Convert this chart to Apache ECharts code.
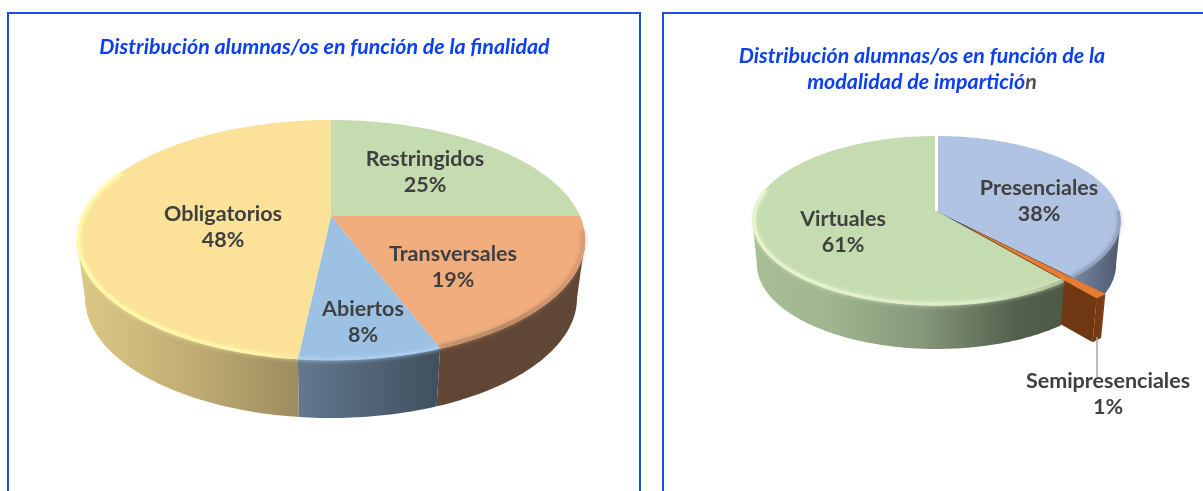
<!DOCTYPE html>
<html>
<head>
<meta charset="utf-8">
<style>html,body{margin:0;padding:0;background:#fff}#c{width:1203px;height:491px}</style>
<script src="https://cdn.jsdelivr.net/npm/echarts@6/dist/echarts.min.js"></script>
</head>
<body>
<div id="c"></div>
<script>
// ---- data ----
const finalidadCategorias = ['Restringidos', 'Transversales', 'Abiertos', 'Obligatorios'];
const finalidadValores = [25, 19.2, 7.5, 48.3];
const modalidadCategorias = ['Presenciales', 'Semipresenciales', 'Virtuales'];
const modalidadValores = [38, 1, 61];
const tituloFinalidad = 'Distribución alumnas/os en función de la finalidad';
const tituloModalidadL1 = 'Distribución alumnas/os en función de la';
const tituloModalidadL2 = 'modalidad de impartició';
const tituloModalidadFin = 'n';

// ---- layout / style ----
const FONT = 'Lato, Carlito, "Open Sans", sans-serif';
const BLUE = '#0a3ff2';
const LG = (stops, x2 = 1, y2 = 0) => new echarts.graphic.LinearGradient(0, 0, x2, y2,
  stops.map(s => ({ offset: s[0], color: s[1] })));

const pieA = {
  cx: 331, ay: 216, R: 249, k: -0.2, a: 72, depth: 58, scale: 0.968,
  slices: [
    { top: '#c5dcb0', side: [[0, '#5f4635'], [1, '#5f4635']], label: [425, 172] },
    { top: '#f1ad7e', side: [[0, '#614635'], [1, '#5f4635']], label: [453, 267],
      rim: { from: 97, to: 180, w: 4, color: LG([[0, '#c99670'], [0.45, '#b98a66'], [1, '#dd9f76']]), glow: 'rgba(190,140,105,.7)' } },
    { top: '#9dc1e3', side: [[0, '#64798f'], [1, '#3f4f5d']], label: [363, 322],
      rim: { from: 0, to: 360, w: 3, color: '#a8ccee', glow: '#a8ccee' } },
    { top: '#fbe298', side: [[0, '#dcc886'], [0.5, '#c2ae74'], [1, '#9c8d60']], label: [223, 227],
      rim: { from: 0, to: 294, w: 3.5, color: LG([[0, '#fff8a8'], [0.8, '#fff4a8'], [1, '#fce59c']]), glow: 'rgba(255,248,180,.7)' } }
  ]
};
const pieB = {
  cx: 936.5, ay: 211, R: 183, k: -0.1124, a: 59.7, depth: 44, scale: 0.975,
  separator: true,
  slices: [
    { top: '#b0c3e2', side: [[0, '#7a88a0'], [1, '#4d586e']], wall: '#46506a', label: [1039, 201],
      rim: { from: 90, to: 137, w: 3, color: '#96a5bf', glow: 'rgba(130,145,170,.7)' } },
    { top: '#e97b2f', side: [[0, '#6f3712'], [1, '#7f4014']], wall: '#6f3712', explode: 0.22, label: [1108, 394],
      leader: [[1097, 337], [1097, 377]] },
    { top: '#c5dcb0', side: [[0, '#a8bf96'], [0.25, '#a0b590'], [0.55, '#84977a'], [0.85, '#535f4c'], [1, '#4e5a48']], label: [843, 232],
      rim: { from: 0, to: 285, w: 3.5, color: LG([[0, '#e6f3cf'], [0.75, '#dcecc5'], [1, '#aabb98']]), glow: 'rgba(230,243,207,.7)' } }
  ]
};

function project(p, r, th, ex, ey) {
  const u = r * Math.sin(th) + ex, v = -r * Math.cos(th) + ey, w = 1 + p.k * v;
  return [p.cx + p.R * u / w, (p.ay + p.a * v) / w];
}
function lower(p, pt) {
  return [p.cx + (pt[0] - p.cx) * p.scale, pt[1] + p.depth];
}
function arc(p, r, a0, a1, ex, ey) {
  const out = [], n = Math.max(2, Math.ceil((a1 - a0) / (Math.PI / 180)));
  for (let i = 0; i <= n; i++) out.push(project(p, r, a0 + (a1 - a0) * i / n, ex, ey));
  return out;
}

function makeRender(p, cats, vals) {
  const total = vals.reduce((s, v) => s + v, 0);
  return function (params, api) {
    const i = api.value(0), value = api.value(1), st = p.slices[i];
    let before = 0;
    for (let j = 0; j < i; j++) before += vals[j];
    const a0 = before / total * 2 * Math.PI, a1 = (before + value) / total * 2 * Math.PI, mid = (a0 + a1) / 2;
    const e = st.explode || 0, ex = e * Math.sin(mid), ey = -e * Math.cos(mid);
    const children = [];
    const zSide = st.explode ? 2 : (st.wall ? 1 : 3);

    // outer wall: only the part of the rim facing the viewer
    const lo = Math.acos(p.k), hi = 2 * Math.PI - lo;
    const s0 = Math.max(a0, lo), s1 = Math.min(a1, hi);
    if (s1 > s0) {
      const t = arc(p, 1, s0, s1, ex, ey);
      const b = t.map(q => lower(p, q)).reverse();
      children.push({ type: 'polygon', z2: zSide, shape: { points: t.concat(b) }, style: { fill: LG(st.side) } });
    }
    // radial cut wall
    if (st.wall) {
      const c = project(p, 0, 0, ex, ey), o = project(p, 1, a1, ex, ey);
      children.push({ type: 'polygon', z2: zSide, shape: { points: [c, o, lower(p, o), lower(p, c)] }, style: { fill: st.wall } });
    }
    // top face
    const face = [project(p, 0, 0, ex, ey)].concat(arc(p, 1, a0, a1, ex, ey));
    children.push({ type: 'polygon', z2: st.explode ? 5 : 4, shape: { points: face }, style: { fill: st.top } });
    // bevelled rim
    if (st.rim) {
      const r0 = Math.max(a0, st.rim.from * Math.PI / 180), r1 = Math.min(a1, st.rim.to * Math.PI / 180);
      if (r1 > r0) {
        const inset = 1 - st.rim.w / 2 / p.R;
        children.push({ type: 'polyline', z2: 6, shape: { points: arc(p, inset, r0, r1, ex, ey) },
          style: { stroke: st.rim.color, lineWidth: st.rim.w, fill: null, lineCap: 'butt',
            shadowBlur: 4, shadowColor: st.rim.glow } });
      }
    }
    if (p.separator && i === 0) {
      children.push({ type: 'line', z2: 7, shape: { x1: p.cx, y1: p.ay, x2: p.cx, y2: project(p, 1, 0, 0, 0)[1] - 1 },
        style: { stroke: '#ffffff', lineWidth: 3 } });
    }
    if (st.leader) {
      children.push({ type: 'line', z2: 8, shape: { x1: st.leader[0][0], y1: st.leader[0][1], x2: st.leader[1][0], y2: st.leader[1][1] },
        style: { stroke: '#a6a6a6', lineWidth: 1.5 } });
    }
    children.push({ type: 'text', z2: 10, style: {
      text: cats[i] + '\n' + Math.round(value) + '%', x: st.label[0], y: st.label[1],
      align: 'center', verticalAlign: 'middle', fill: '#404040',
      fontFamily: FONT, fontWeight: 'bold', fontSize: 21.5, lineHeight: 26 } });
    return { type: 'group', children };
  };
}

const chart = echarts.init(document.getElementById('c'), null, { renderer: 'canvas' });
const titleStyle = { fontFamily: FONT, fontStyle: 'italic', fontWeight: 'bold', fontSize: 21.4 };
chart.setOption({
  animation: false,
  backgroundColor: '#ffffff',
  title: [
    { text: tituloFinalidad, left: 319.5, top: 32, textAlign: 'center',
      textStyle: Object.assign({ color: BLUE }, titleStyle) },
    { text: '{a|' + tituloModalidadL1 + '}\n{a|' + tituloModalidadL2 + '}{b|' + tituloModalidadFin + '}',
      left: 917, top: 38, textAlign: 'center',
      textStyle: { rich: {
        a: Object.assign({ color: BLUE, lineHeight: 26 }, titleStyle),
        b: Object.assign({ color: '#505050', lineHeight: 26 }, titleStyle) } } }
  ],
  graphic: [
    { type: 'rect', shape: { x: 8, y: 13, width: 632, height: 520 }, style: { fill: null, stroke: '#1a4fe0', lineWidth: 2 }, silent: true },
    { type: 'rect', shape: { x: 663, y: 13, width: 620, height: 520 }, style: { fill: null, stroke: '#1a4fe0', lineWidth: 2 }, silent: true }
  ],
  series: [
    { type: 'custom', coordinateSystem: 'none', silent: true, renderItem: makeRender(pieA, finalidadCategorias, finalidadValores),
      data: finalidadValores.map((v, i) => [i, v]) },
    { type: 'custom', coordinateSystem: 'none', silent: true, renderItem: makeRender(pieB, modalidadCategorias, modalidadValores),
      data: modalidadValores.map((v, i) => [i, v]) }
  ]
});
</script>
</body>
</html>
